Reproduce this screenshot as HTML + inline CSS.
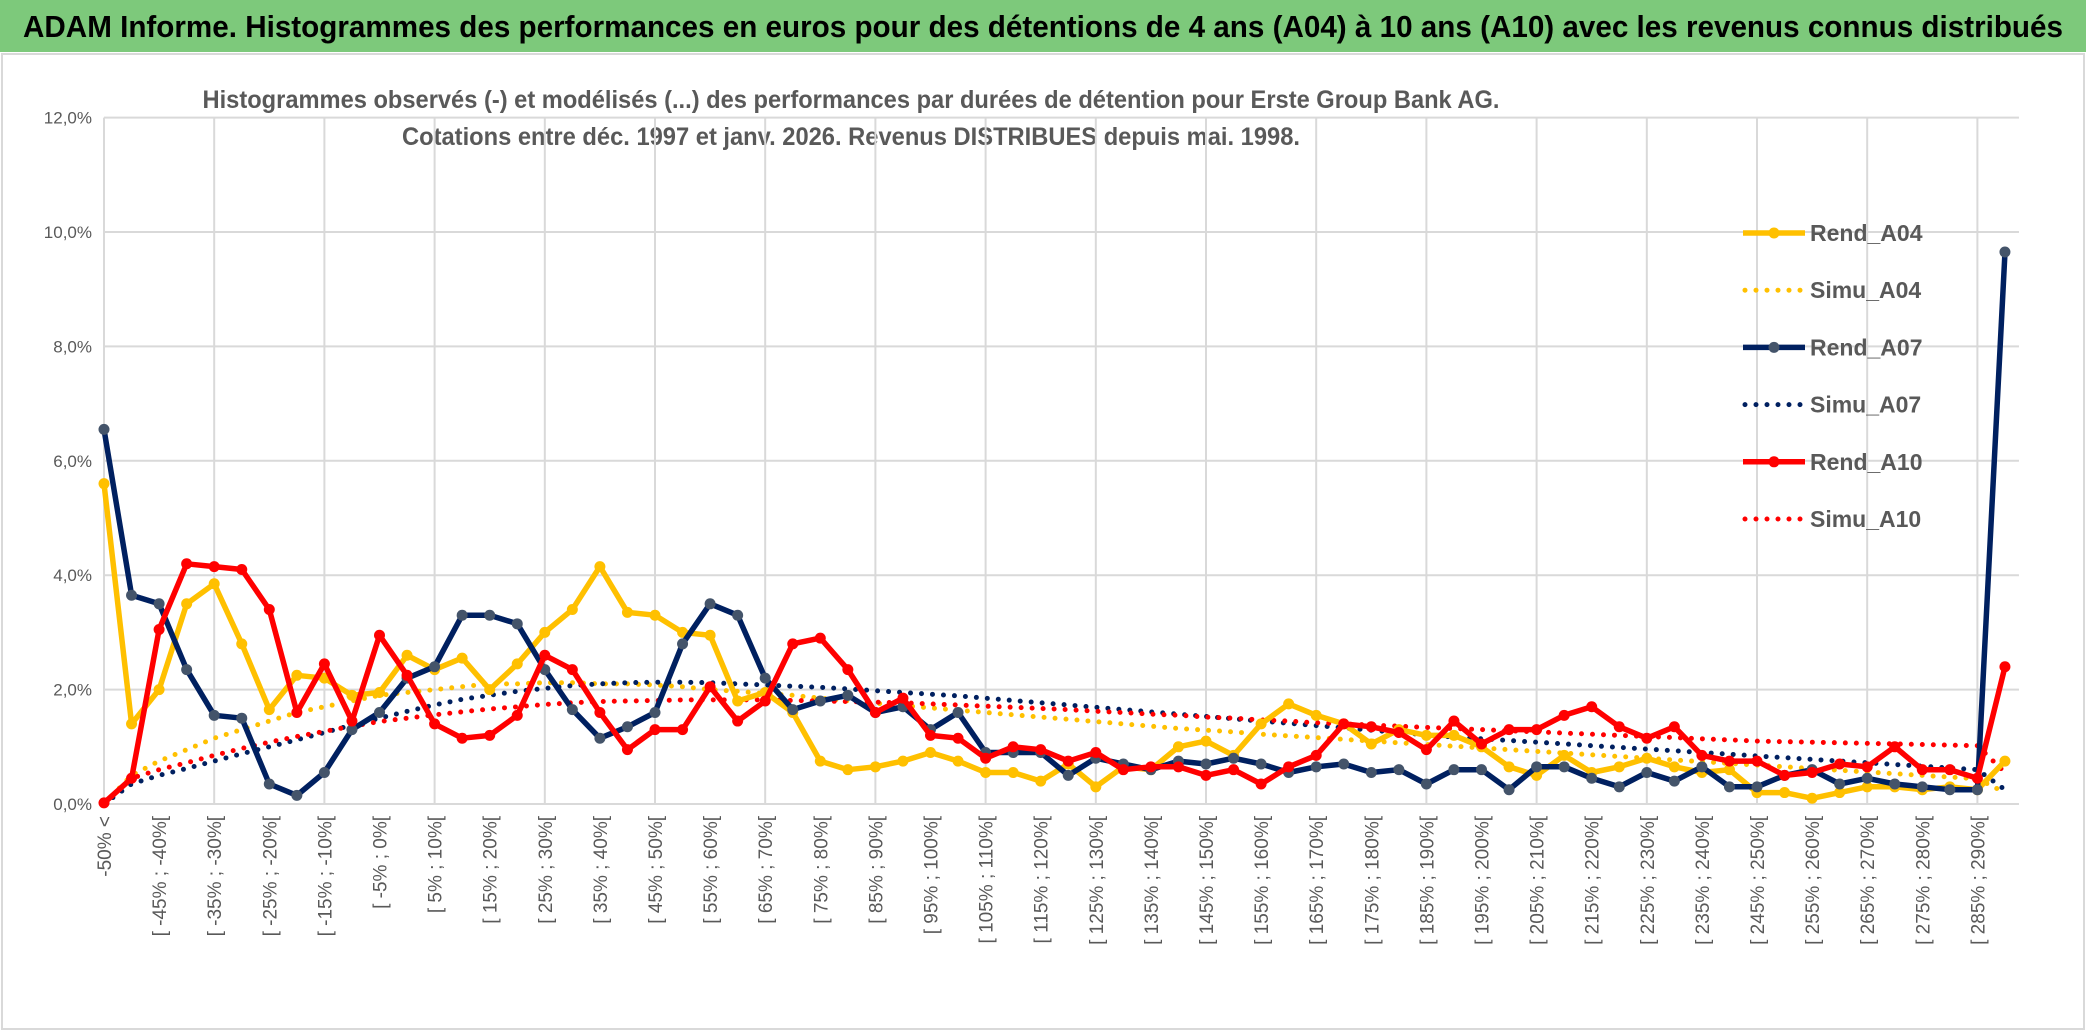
<!DOCTYPE html>
<html><head><meta charset="utf-8"><style>
html,body{margin:0;padding:0;background:#fff;}
svg{display:block;font-family:"Liberation Sans Narrow","Liberation Sans",sans-serif;}
</style></head><body>
<svg id="chart" width="2086" height="1031" viewBox="0 0 2086 1031">
<rect x="0" y="0" width="2086" height="1031" fill="#fff"/>
<rect x="0" y="0" width="2086" height="52" fill="#7DC97B"/>
<text x="1043" y="37" text-anchor="middle" font-size="31" font-weight="bold" fill="#000" textLength="2040" lengthAdjust="spacingAndGlyphs">ADAM Informe. Histogrammes des performances en euros pour des détentions de 4 ans (A04) à 10 ans (A10) avec les revenus connus distribués</text>
<rect x="2" y="54" width="2082" height="975" fill="none" stroke="#d9d9d9" stroke-width="2"/>
<text x="851" y="108" text-anchor="middle" font-size="25" font-weight="bold" fill="#595959" textLength="1297" lengthAdjust="spacingAndGlyphs">Histogrammes observés (-) et modélisés (...) des performances par durées de détention pour Erste Group Bank AG.</text>
<text x="851" y="145" text-anchor="middle" font-size="25" font-weight="bold" fill="#595959" textLength="898" lengthAdjust="spacingAndGlyphs">Cotations entre déc. 1997 et janv. 2026. Revenus DISTRIBUES depuis mai. 1998.</text>
<g id="grid"></g><g id="yticks"></g><g id="xticks"></g><g id="series"></g><g id="legend"></g>
</svg>
<script>
const yTicks=[0,2,4,6,8,10,12];
const yTickLabels=["0,0%","2,0%","4,0%","6,0%","8,0%","10,0%","12,0%"];
const rendA04=[5.6,1.4,2.0,3.5,3.85,2.8,1.65,2.25,2.2,1.9,1.95,2.6,2.35,2.55,2.0,2.45,3.0,3.4,4.15,3.35,3.3,3.0,2.95,1.8,1.95,1.6,0.75,0.6,0.65,0.75,0.9,0.75,0.55,0.55,0.4,0.7,0.3,0.65,0.6,1.0,1.1,0.85,1.4,1.75,1.55,1.4,1.05,1.3,1.2,1.2,1.0,0.65,0.5,0.85,0.55,0.65,0.8,0.65,0.55,0.6,0.2,0.2,0.1,0.2,0.3,0.3,0.25,0.3,0.25,0.75];
const rendA07=[6.55,3.65,3.5,2.35,1.55,1.5,0.35,0.15,0.55,1.3,1.6,2.2,2.4,3.3,3.3,3.15,2.35,1.65,1.15,1.35,1.6,2.8,3.5,3.3,2.2,1.65,1.8,1.9,1.6,1.7,1.3,1.6,0.9,0.9,0.9,0.5,0.8,0.7,0.6,0.75,0.7,0.8,0.7,0.55,0.65,0.7,0.55,0.6,0.35,0.6,0.6,0.25,0.65,0.65,0.45,0.3,0.55,0.4,0.65,0.3,0.3,0.5,0.6,0.35,0.45,0.35,0.3,0.25,0.25,9.65];
const rendA10=[0.02,0.45,3.05,4.2,4.15,4.1,3.4,1.6,2.45,1.45,2.95,2.25,1.4,1.15,1.2,1.55,2.6,2.35,1.6,0.95,1.3,1.3,2.05,1.45,1.8,2.8,2.9,2.35,1.6,1.85,1.2,1.15,0.8,1.0,0.95,0.75,0.9,0.6,0.65,0.65,0.5,0.6,0.35,0.65,0.85,1.4,1.35,1.25,0.95,1.45,1.05,1.3,1.3,1.55,1.7,1.35,1.15,1.35,0.85,0.75,0.75,0.5,0.55,0.7,0.65,1.0,0.6,0.6,0.45,2.4];
const simuA04=[0,0.5,0.75,0.95,1.15,1.3,1.45,1.6,1.7,1.8,1.9,1.95,2.0,2.05,2.1,2.1,2.12,2.12,2.1,2.1,2.08,2.05,2.0,1.97,1.93,1.9,1.85,1.8,1.76,1.72,1.68,1.64,1.6,1.56,1.52,1.48,1.44,1.4,1.36,1.32,1.29,1.26,1.22,1.19,1.16,1.13,1.1,1.07,1.04,1.01,0.98,0.95,0.92,0.89,0.86,0.83,0.8,0.77,0.74,0.71,0.68,0.65,0.62,0.59,0.56,0.53,0.5,0.47,0.44,0.2];
const simuA07=[0,0.35,0.5,0.62,0.75,0.88,1.0,1.12,1.25,1.38,1.5,1.62,1.73,1.83,1.9,1.97,2.02,2.07,2.1,2.12,2.13,2.13,2.12,2.1,2.08,2.06,2.04,2.01,1.98,1.95,1.92,1.89,1.85,1.81,1.77,1.73,1.69,1.65,1.61,1.57,1.53,1.49,1.45,1.41,1.37,1.33,1.29,1.25,1.21,1.17,1.14,1.11,1.08,1.05,1.02,0.99,0.96,0.93,0.9,0.87,0.84,0.81,0.78,0.75,0.72,0.69,0.66,0.63,0.6,0.25];
const simuA10=[0,0.45,0.6,0.72,0.85,0.97,1.08,1.18,1.27,1.36,1.44,1.5,1.56,1.61,1.66,1.7,1.74,1.77,1.79,1.8,1.81,1.82,1.82,1.82,1.82,1.81,1.8,1.79,1.78,1.77,1.75,1.73,1.71,1.69,1.67,1.65,1.62,1.6,1.57,1.55,1.52,1.5,1.47,1.45,1.42,1.4,1.38,1.36,1.34,1.32,1.3,1.28,1.26,1.24,1.22,1.2,1.18,1.16,1.14,1.12,1.1,1.09,1.08,1.07,1.06,1.05,1.04,1.03,1.02,0.55];
const categories=["-50% <"];
for(let a=-50;a<=285;a+=5){categories.push("[ "+a+"% ; "+(a+5)+"%[");}
categories.push("> 290%");

const NS="http://www.w3.org/2000/svg";
const X0=104, DX=27.55, Y0=804, YPX=57.2;
function xs(i){return X0+DX*i;}
function ys(v){return Y0-YPX*v;}
function mk(tag,attrs,parent){const e=document.createElementNS(NS,tag);for(const k in attrs)e.setAttribute(k,attrs[k]);parent.appendChild(e);return e;}
const grid=document.getElementById('grid'),yg=document.getElementById('yticks'),xg=document.getElementById('xticks'),sg=document.getElementById('series'),lg=document.getElementById('legend');
const xEnd=xs(categories.length-1)+14;
yTicks.forEach((t,i)=>{
  const l=mk('line',{x1:X0,x2:xEnd,y1:ys(t),y2:ys(t),stroke:'#d9d9d9','stroke-width':2},grid);
  
  
  const tx=mk('text',{x:X0-12,y:ys(t)+6,'text-anchor':'end','font-size':17,fill:'#595959'},yg);
  tx.textContent=yTickLabels[i];
  
  
});
categories.forEach((c,i)=>{
  if(i%4===0){
    const l=mk('line',{x1:xs(i),x2:xs(i),y1:ys(12),y2:Y0,stroke:'#d9d9d9','stroke-width':2},grid);
    
    
  }
  if(i%2===0){
    const tx=mk('text',{x:0,y:0,'text-anchor':'end','font-size':19,fill:'#595959',transform:`translate(${xs(i)+7},${Y0+12}) rotate(-90)`},xg);
    tx.textContent=c;
    
    
  }
});
function pts(arr){return arr.map((v,i)=>xs(i).toFixed(1)+','+ys(v).toFixed(1)).join(' ');}
function dotted(arr,color,name){
  const p=mk('polyline',{points:pts(arr),fill:'none',stroke:color,'stroke-width':5,'stroke-dasharray':'0 11','stroke-linecap':'round','stroke-linejoin':'round'},sg);
  
  
}
function solid(arr,color,mcol,name){
  const p=mk('polyline',{points:pts(arr),fill:'none',stroke:color,'stroke-width':5.5,'stroke-linejoin':'round'},sg);
  
  
  arr.forEach((v,i)=>{
    const c=mk('circle',{cx:xs(i),cy:ys(v),r:5.5,fill:mcol},sg);
    
    
  });
}
dotted(simuA04,'#FFC000','simu-a04-line');
dotted(simuA07,'#002060','simu-a07-line');
dotted(simuA10,'#FF0000','simu-a10-line');
solid(rendA04,'#FFC000','#FFC000','rend-a04-line');
solid(rendA07,'#002060','#44546A','rend-a07-line');
solid(rendA10,'#FF0000','#FF0000','rend-a10-line');
const legendItems=[["Rend_A04","#FFC000",false,"#FFC000"],["Simu_A04","#FFC000",true],["Rend_A07","#002060",false,"#44546A"],["Simu_A07","#002060",true],["Rend_A10","#FF0000",false,"#FF0000"],["Simu_A10","#FF0000",true]];
legendItems.forEach((it,i)=>{
  const y=233+57.2*i;
  const g=mk('g',{},lg);
  
  
  if(it[2]) mk('line',{x1:1745,x2:1803,y1:y,y2:y,stroke:it[1],'stroke-width':5,'stroke-dasharray':'0 11','stroke-linecap':'round'},g);
  else {mk('line',{x1:1743,x2:1805,y1:y,y2:y,stroke:it[1],'stroke-width':5.5},g);mk('circle',{cx:1774,cy:y,r:5.5,fill:it[3]},g);}
  const t=mk('text',{x:1810,y:y+8,'font-size':23,'font-weight':'bold',fill:'#595959'},g);
  t.textContent=it[0];
});
</script>
</body></html>
